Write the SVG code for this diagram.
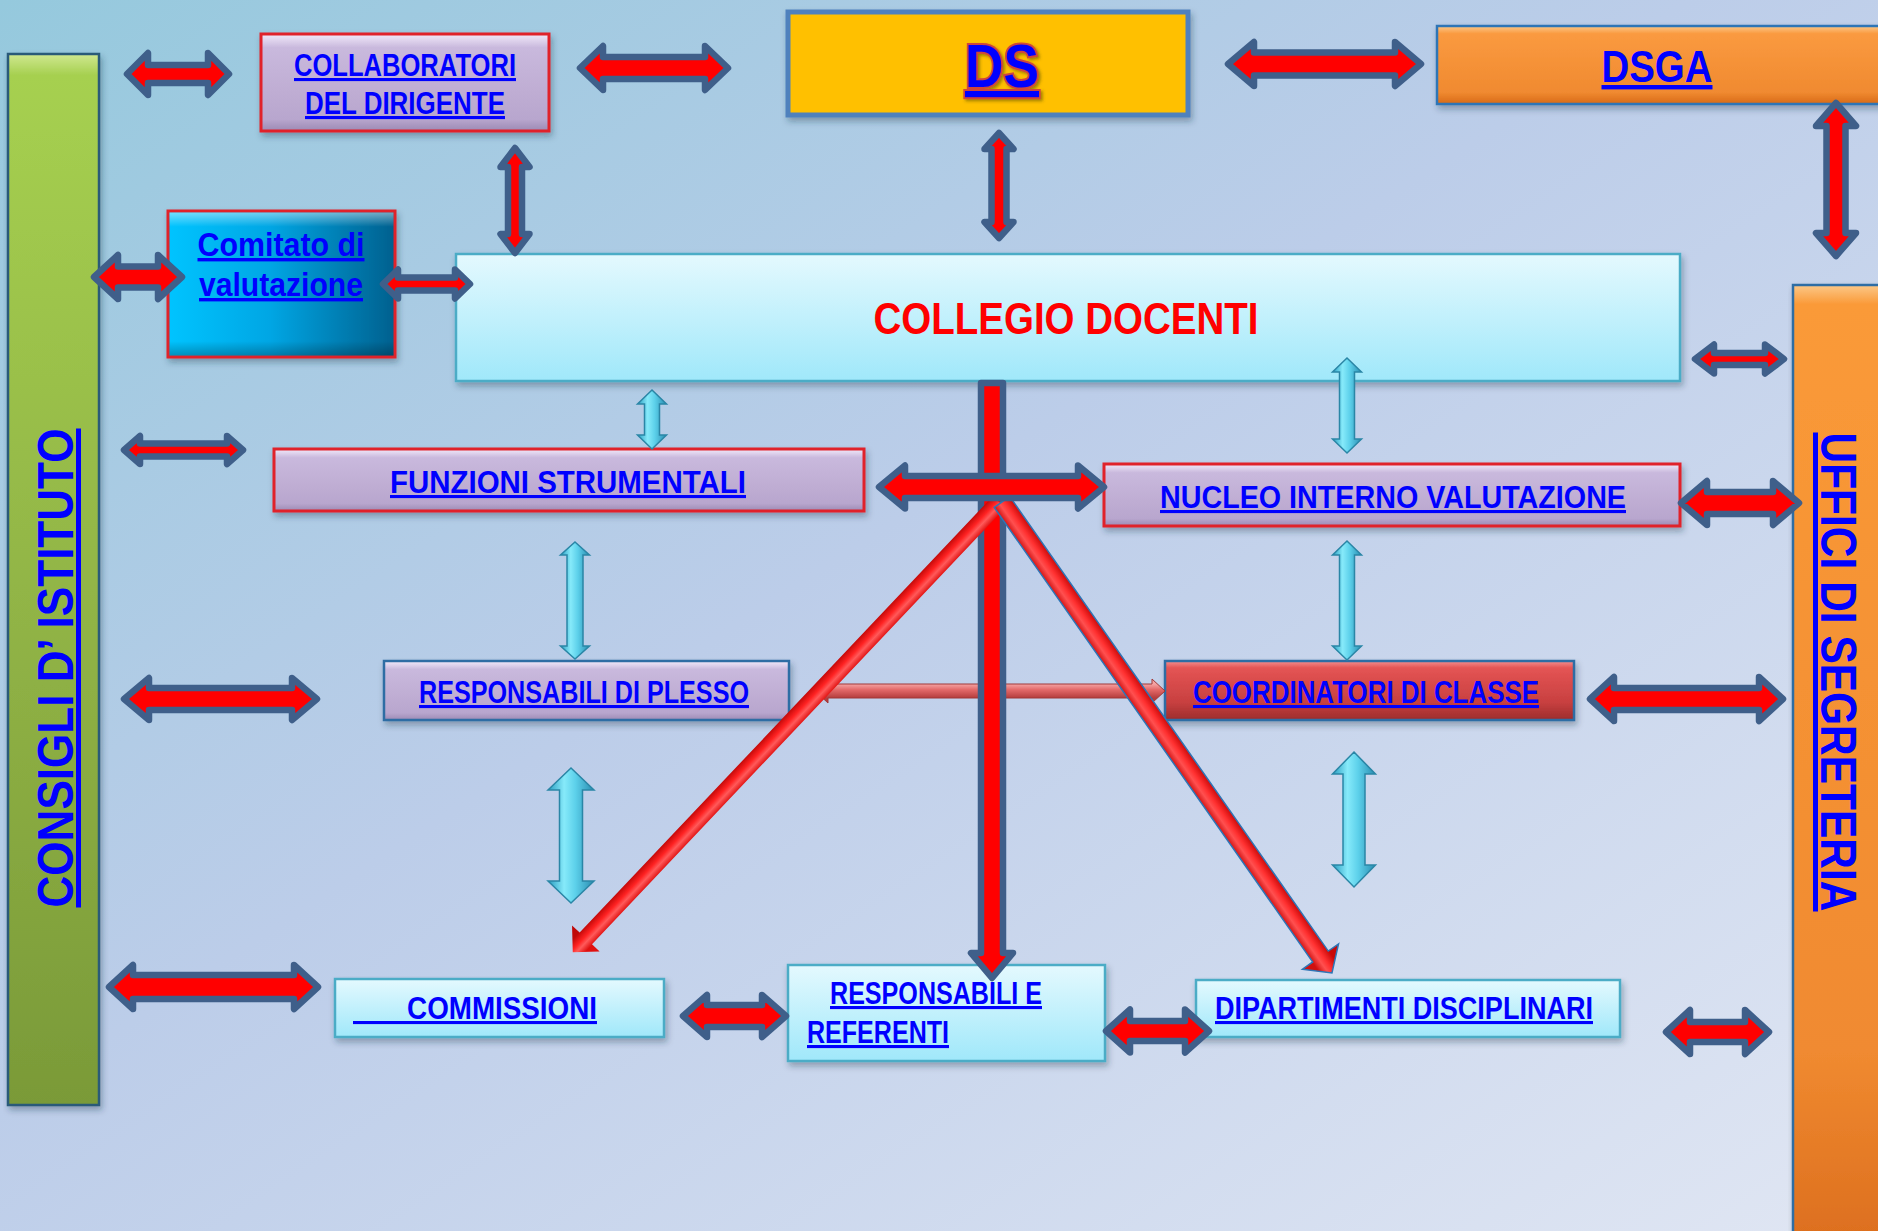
<svg xmlns="http://www.w3.org/2000/svg" width="1878" height="1231" viewBox="0 0 1878 1231">
<defs>
  <linearGradient id="bg" x1="0" y1="0" x2="1" y2="1">
    <stop offset="0" stop-color="#95c9dd"/>
    <stop offset="0.45" stop-color="#bccde9"/>
    <stop offset="1" stop-color="#e0e6f3"/>
  </linearGradient>
  <linearGradient id="lav" x1="0" y1="0" x2="0" y2="1">
    <stop offset="0" stop-color="#f2eafa"/>
    <stop offset="0.14" stop-color="#c9b9dd"/>
    <stop offset="0.6" stop-color="#bfadd3"/>
    <stop offset="0.88" stop-color="#b8a6ce"/>
    <stop offset="1" stop-color="#9c8ab4"/>
  </linearGradient>
  <linearGradient id="cyanBox" x1="0" y1="0" x2="0" y2="1">
    <stop offset="0" stop-color="#e4f9fe"/>
    <stop offset="1" stop-color="#a0e8fa"/>
  </linearGradient>
  <linearGradient id="orange" x1="0" y1="0" x2="0" y2="1">
    <stop offset="0" stop-color="#fcc888"/>
    <stop offset="0.1" stop-color="#fa9a40"/>
    <stop offset="0.85" stop-color="#f08a30"/>
    <stop offset="1" stop-color="#d86a18"/>
  </linearGradient>
  <linearGradient id="orangeV" x1="0" y1="0" x2="0" y2="1">
    <stop offset="0" stop-color="#fcc888"/>
    <stop offset="0.02" stop-color="#fa9a38"/>
    <stop offset="0.8" stop-color="#f08a30"/>
    <stop offset="1" stop-color="#dc6e1e"/>
  </linearGradient>
  <linearGradient id="green" x1="0" y1="0" x2="0" y2="1">
    <stop offset="0" stop-color="#d0e890"/>
    <stop offset="0.02" stop-color="#a6d050"/>
    <stop offset="0.6" stop-color="#8eb044"/>
    <stop offset="1" stop-color="#7a9a38"/>
  </linearGradient>
  <linearGradient id="comit" x1="0" y1="0" x2="1" y2="0">
    <stop offset="0" stop-color="#00c4ff"/>
    <stop offset="0.45" stop-color="#00a6e4"/>
    <stop offset="1" stop-color="#00608e"/>
  </linearGradient>
  <linearGradient id="comitTop" x1="0" y1="0" x2="0" y2="1">
    <stop offset="0" stop-color="#ffffff" stop-opacity="0.45"/>
    <stop offset="0.1" stop-color="#ffffff" stop-opacity="0"/>
    <stop offset="0.9" stop-color="#000000" stop-opacity="0"/>
    <stop offset="1" stop-color="#000000" stop-opacity="0.25"/>
  </linearGradient>
  <linearGradient id="redBox" x1="0" y1="0" x2="0" y2="1">
    <stop offset="0" stop-color="#f49090"/>
    <stop offset="0.12" stop-color="#e45454"/>
    <stop offset="0.7" stop-color="#c84040"/>
    <stop offset="1" stop-color="#9c2c2c"/>
  </linearGradient>
  <linearGradient id="cyanArr" x1="0" y1="0" x2="1" y2="0">
    <stop offset="0" stop-color="#2a9cc0"/>
    <stop offset="0.35" stop-color="#86eafa"/>
    <stop offset="0.6" stop-color="#5cd0ea"/>
    <stop offset="1" stop-color="#2a8cb0"/>
  </linearGradient>
  <linearGradient id="tubeT" gradientUnits="userSpaceOnUse" x1="0" y1="-9" x2="0" y2="9">
    <stop offset="0" stop-color="#e01010"/>
    <stop offset="0.35" stop-color="#ff5a5a"/>
    <stop offset="0.6" stop-color="#ff2222"/>
    <stop offset="1" stop-color="#c00808"/>
  </linearGradient>
  <linearGradient id="tubeU" gradientUnits="userSpaceOnUse" x1="0" y1="-10" x2="0" y2="10">
    <stop offset="0" stop-color="#c80808"/>
    <stop offset="0.4" stop-color="#ff3030"/>
    <stop offset="0.65" stop-color="#ff5050"/>
    <stop offset="1" stop-color="#d01010"/>
  </linearGradient>
  <linearGradient id="tubeV" gradientUnits="userSpaceOnUse" x1="0" y1="684" x2="0" y2="698">
    <stop offset="0" stop-color="#f4a4a4"/>
    <stop offset="0.4" stop-color="#e46a6a"/>
    <stop offset="1" stop-color="#b43c3c"/>
  </linearGradient>
  <filter id="sh" x="-5%" y="-5%" width="115%" height="125%">
    <feDropShadow dx="2" dy="4" stdDeviation="3" flood-color="#203040" flood-opacity="0.35"/>
  </filter>
  <filter id="tsh" x="-10%" y="-10%" width="130%" height="130%">
    <feDropShadow dx="2" dy="2" stdDeviation="1.5" flood-color="#404000" flood-opacity="0.5"/>
  </filter>
</defs>
<style>
  .t { font-family: "Liberation Sans", Arial, sans-serif; font-weight: bold; fill: #0000ff; text-decoration: underline; }
  .box { filter: url(#sh); }
  .lav { fill: url(#lav); }
  .cb { fill: url(#cyanBox); stroke: #4bacc6; stroke-width: 2.5; }
  .rb { stroke: #e0202a; stroke-width: 3; }
  .bb { stroke: #2e6da4; stroke-width: 2.5; }
  .ra { fill: #ff0000; stroke: #3f5f8a; stroke-width: 6.5; stroke-linejoin: round; }
  .ca { fill: url(#cyanArr); stroke: #2a86a6; stroke-width: 1.5; stroke-linejoin: miter; }
</style>

<rect x="0" y="0" width="1878" height="1231" fill="url(#bg)"/>

<g id="consigli-istituto">
  <rect class="box" x="8" y="54" width="91" height="1051" fill="url(#green)" stroke="#2a5a78" stroke-width="2.5"/>
  <text class="t" transform="translate(73,668) rotate(-90)" text-anchor="middle" font-size="50" textLength="479" lengthAdjust="spacingAndGlyphs">CONSIGLI D’ ISTITUTO</text>
</g>

<g id="uffici-segreteria">
  <rect class="box" x="1793" y="285" width="95" height="960" fill="url(#orangeV)" stroke="#2e6da4" stroke-width="2.5"/>
  <text class="t" transform="translate(1821,672) rotate(90)" text-anchor="middle" font-size="50" textLength="479" lengthAdjust="spacingAndGlyphs">UFFICI DI SEGRETERIA</text>
</g>

<g id="ds">
  <rect class="box" x="788" y="12" width="400" height="103" fill="#ffc000" stroke="#4f81bd" stroke-width="5"/>
  <text class="t" x="1002" y="87" text-anchor="middle" font-size="62" textLength="74" lengthAdjust="spacingAndGlyphs" stroke="#d0443c" stroke-width="4" paint-order="stroke" filter="url(#tsh)">DS</text>
</g>

<g id="dsga">
  <rect class="box" x="1437" y="26" width="450" height="78" fill="url(#orange)" stroke="#2e75b6" stroke-width="2.5"/>
  <text class="t" x="1657" y="82" text-anchor="middle" font-size="44" textLength="111" lengthAdjust="spacingAndGlyphs">DSGA</text>
</g>

<g id="collaboratori">
  <rect class="box lav rb" x="261" y="34" width="288" height="97"/>
  <text class="t" x="405" y="76" text-anchor="middle" font-size="31" textLength="222" lengthAdjust="spacingAndGlyphs">COLLABORATORI</text>
  <text class="t" x="405" y="114" text-anchor="middle" font-size="31" textLength="200" lengthAdjust="spacingAndGlyphs">DEL DIRIGENTE</text>
</g>

<g id="comitato">
  <rect class="box rb" x="168" y="211" width="227" height="146" fill="url(#comit)"/>
  <rect x="169.5" y="212.5" width="224" height="143" fill="url(#comitTop)"/>
  <text class="t" x="281" y="256" text-anchor="middle" font-size="34" textLength="167" lengthAdjust="spacingAndGlyphs">Comitato di</text>
  <text class="t" x="281" y="296" text-anchor="middle" font-size="34" textLength="164" lengthAdjust="spacingAndGlyphs">valutazione</text>
</g>

<g id="collegio">
  <rect class="box cb" x="456" y="254" width="1224" height="127"/>
  <text x="1066" y="334" text-anchor="middle" font-family="Liberation Sans, Arial, sans-serif" font-weight="bold" font-size="44" fill="#ff0000" textLength="385" lengthAdjust="spacingAndGlyphs">COLLEGIO DOCENTI</text>
</g>

<g id="funzioni">
  <rect class="box lav rb" x="274" y="449" width="590" height="62"/>
  <text class="t" x="568" y="493" text-anchor="middle" font-size="31" textLength="356" lengthAdjust="spacingAndGlyphs">FUNZIONI STRUMENTALI</text>
</g>

<g id="nucleo">
  <rect class="box lav rb" x="1104" y="464" width="576" height="62"/>
  <text class="t" x="1393" y="508" text-anchor="middle" font-size="31" textLength="466" lengthAdjust="spacingAndGlyphs">NUCLEO INTERNO VALUTAZIONE</text>
</g>

<g id="responsabili-plesso">
  <rect class="box lav bb" x="384" y="661" width="405" height="59"/>
  <text class="t" x="584" y="703" text-anchor="middle" font-size="31" textLength="330" lengthAdjust="spacingAndGlyphs">RESPONSABILI DI PLESSO</text>
</g>

<g id="coordinatori">
  <rect class="box bb" x="1165" y="661" width="409" height="59" fill="url(#redBox)"/>
  <text class="t" x="1366" y="703" text-anchor="middle" font-size="31" textLength="346" lengthAdjust="spacingAndGlyphs">COORDINATORI DI CLASSE</text>
</g>

<g id="commissioni">
  <rect class="box cb" x="335" y="979" width="329" height="58"/>
  <text class="t" x="353" y="1019" font-size="31" textLength="244" lengthAdjust="spacingAndGlyphs" xml:space="preserve">       COMMISSIONI</text>
</g>

<g id="responsabili-referenti">
  <rect class="box cb" x="788" y="965" width="317" height="96"/>
  <text class="t" x="830" y="1004" font-size="31" textLength="212" lengthAdjust="spacingAndGlyphs">RESPONSABILI E</text>
  <text class="t" x="807" y="1043" font-size="31" textLength="142" lengthAdjust="spacingAndGlyphs">REFERENTI</text>
</g>

<g id="dipartimenti">
  <rect class="box cb" x="1196" y="980" width="424" height="57"/>
  <text class="t" x="1404" y="1019" text-anchor="middle" font-size="31" textLength="378" lengthAdjust="spacingAndGlyphs">DIPARTIMENTI DISCIPLINARI</text>
</g>

<g id="connectors">
  <!-- light red horizontal arrow plesso <-> coordinatori -->
  <polygon points="815,691 828,679 828,684 1152,684 1152,679 1165,691 1152,703 1152,698 828,698 828,703" fill="url(#tubeV)" stroke="#a03838" stroke-width="1"/>
  <!-- central vertical arrow collegio -> responsabili e referenti -->
  <polygon class="ra" points="981,383 1003,383 1003,953 1013,953 992,978 971,953 981,953"/>
  <!-- diagonal to commissioni -->
  <polygon transform="translate(999,502) rotate(133.43)" points="0,-8.5 601,-8.5 601,-19 620,0 601,19 601,8.5 0,8.5" fill="url(#tubeT)"/>
  <!-- diagonal to dipartimenti -->
  <polygon transform="translate(1002,502) rotate(54.98)" points="0,-9.5 555,-9.5 555,-22 575,0 555,22 555,9.5 0,9.5" fill="url(#tubeU)" stroke="#2e75b6" stroke-width="1.5"/>
  <!-- central horizontal arrow funzioni <-> nucleo -->
  <polygon class="ra" points="879,487 905,465.5 905,476 1078,476 1078,465.5 1104,487 1078,508.5 1078,498 905,498 905,508.5"/>

  <!-- red double arrows -->
  <polygon class="ra" points="127,74 148,53 148,65 208,65 208,53 229,74 208,95 208,83 148,83 148,95"/>
  <polygon class="ra" points="580,68 603,46 603,57 705,57 705,46 728,68 705,90 705,79 603,79 603,90"/>
  <polygon class="ra" points="1228,64 1254,42 1254,52.5 1395,52.5 1395,42 1421,64 1395,86 1395,75.5 1254,75.5 1254,86"/>
  <polygon class="ra" points="94,277 118,255 118,266.5 158,266.5 158,255 182,277 158,299 158,287.5 118,287.5 118,299"/>
  <polygon class="ra" points="383,284 398,269.5 398,277.5 455,277.5 455,269.5 470,284 455,298.5 455,290.5 398,290.5 398,298.5"/>
  <polygon class="ra" points="1695,359 1714,344.5 1714,353 1765,353 1765,344.5 1784,359 1765,373.5 1765,365 1714,365 1714,373.5"/>
  <polygon class="ra" points="124,450 140,436 140,443.5 227,443.5 227,436 243,450 227,464 227,456.5 140,456.5 140,464"/>
  <polygon class="ra" points="124,699 149,678 149,688 292,688 292,678 317,699 292,720 292,710 149,710 149,720"/>
  <polygon class="ra" points="109,987 133,965 133,975 294,975 294,965 318,987 294,1009 294,999 133,999 133,1009"/>
  <polygon class="ra" points="683,1016 707,995 707,1005 762,1005 762,995 786,1016 762,1037 762,1027 707,1027 707,1037"/>
  <polygon class="ra" points="1106,1031 1130,1009.5 1130,1021 1185,1021 1185,1009.5 1209,1031 1185,1052.5 1185,1041 1130,1041 1130,1052.5"/>
  <polygon class="ra" points="1666,1032 1690,1010 1690,1022 1745,1022 1745,1010 1769,1032 1745,1054 1745,1042 1690,1042 1690,1054"/>
  <polygon class="ra" points="1681,503 1707,481 1707,492 1773,492 1773,481 1799,503 1773,525 1773,514 1707,514 1707,525"/>
  <polygon class="ra" points="1590,699 1614,677 1614,688 1759,688 1759,677 1783,699 1759,721 1759,710 1614,710 1614,721"/>
  <!-- red vertical double arrows -->
  <polygon class="ra" points="999,133 1013.5,149 1006.5,149 1006.5,222 1013.5,222 999,238 984.5,222 991.5,222 991.5,149 984.5,149"/>
  <polygon class="ra" points="1836,103 1856,126 1845.5,126 1845.5,233 1856,233 1836,256 1816,233 1826.5,233 1826.5,126 1816,126"/>
  <polygon class="ra" points="515,148 529.5,167 522,167 522,234 529.5,234 515,253 500.5,234 508,234 508,167 500.5,167"/>

  <!-- cyan double arrows -->
  <polygon class="ca" points="652,390 666.5,404 659.5,404 659.5,435 666.5,435 652,449 637.5,435 644.5,435 644.5,404 637.5,404"/>
  <polygon class="ca" points="575,542 589.5,555 583,555 583,646 589.5,646 575,659 560.5,646 567,646 567,555 560.5,555"/>
  <polygon class="ca" points="571,768 594,790 582.5,790 582.5,881 594,881 571,903 548,881 559.5,881 559.5,790 548,790"/>
  <polygon class="ca" points="1347,358 1361.5,372 1354.5,372 1354.5,439 1361.5,439 1347,453 1332.5,439 1339.5,439 1339.5,372 1332.5,372"/>
  <polygon class="ca" points="1347,541 1361.5,555 1354.5,555 1354.5,646 1361.5,646 1347,660 1332.5,646 1339.5,646 1339.5,555 1332.5,555"/>
  <polygon class="ca" points="1354,752 1375.5,774 1365,774 1365,865 1375.5,865 1354,887 1332.5,865 1343,865 1343,774 1332.5,774"/>
</g>
</svg>
